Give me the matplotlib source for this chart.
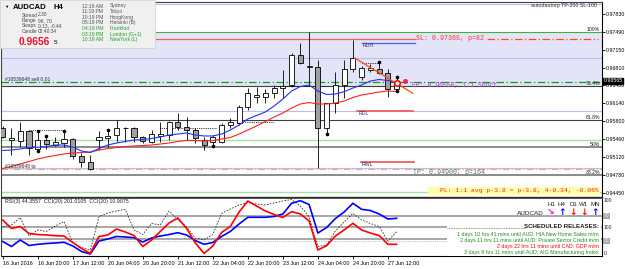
import numpy as np
import matplotlib
matplotlib.use("Agg")
import matplotlib.pyplot as plt
from matplotlib.patches import Rectangle
from matplotlib.transforms import blended_transform_factory

plt.rcParams['font.family'] = ['Liberation Sans', 'DejaVu Sans']
MONO = ['Liberation Mono', 'DejaVu Sans Mono']

# ---- data ----
date_labels = ["16 Jun 2016", "16 Jun 20:00", "17 Jun 12:00", "20 Jun 04:00",
               "20 Jun 20:00", "21 Jun 12:00", "22 Jun 04:00", "22 Jun 20:00",
               "23 Jun 12:00", "24 Jun 04:00", "24 Jun 20:00", "27 Jun 12:00"]

opens = [0.95682, 0.95456, 0.95437, 0.95620, 0.95274, 0.95450, 0.95361, 0.95399,
         0.95469, 0.95153, 0.95040, 0.95450, 0.95482, 0.95544, 0.95677, 0.95682,
         0.95501, 0.95418, 0.95526, 0.95544, 0.95796, 0.95690, 0.95639, 0.95450,
         0.95418, 0.95418, 0.95733, 0.95765, 0.96079, 0.96268, 0.96257, 0.96332,
         0.96427, 0.96489, 0.97056, 0.96835, 0.96835, 0.95671, 0.96143, 0.96489,
         0.96791, 0.96640, 0.96772, 0.96791, 0.96716, 0.96420]
highs = [0.95714, 0.95677, 0.95790, 0.95639, 0.95607, 0.95512, 0.95512, 0.95607,
         0.95488, 0.95210, 0.95167, 0.95620, 0.95620, 0.95828, 0.95690, 0.95701,
         0.95531, 0.95639, 0.95796, 0.95815, 0.95954, 0.95890, 0.95671, 0.95512,
         0.95544, 0.95765, 0.95860, 0.96111, 0.96427, 0.96445, 0.96408, 0.96489,
         0.96772, 0.97088, 0.97277, 0.97490, 0.96961, 0.96149, 0.96740, 0.96961,
         0.97339, 0.96848, 0.96886, 0.96904, 0.96791, 0.96620]
lows = [0.95488, 0.95167, 0.95318, 0.95167, 0.95261, 0.95280, 0.95337, 0.95318,
        0.95085, 0.94946, 0.94883, 0.95261, 0.95323, 0.95418, 0.95418, 0.95418,
        0.95388, 0.95399, 0.95418, 0.95450, 0.95639, 0.95450, 0.95388, 0.95261,
        0.95356, 0.95388, 0.95671, 0.95733, 0.96017, 0.96143, 0.96143, 0.96238,
        0.96238, 0.96457, 0.96886, 0.96489, 0.94921, 0.95577, 0.95954, 0.96243,
        0.96734, 0.96583, 0.96734, 0.96697, 0.96262, 0.96400]
closes = [0.95501, 0.95493, 0.95620, 0.95293, 0.95450, 0.95374, 0.95407, 0.95469,
          0.95153, 0.95040, 0.94897, 0.95501, 0.95531, 0.95682, 0.95682, 0.95501,
          0.95431, 0.95558, 0.95563, 0.95796, 0.95701, 0.95639, 0.95482, 0.95356,
          0.95512, 0.95733, 0.95796, 0.96079, 0.96332, 0.96300, 0.96332, 0.96427,
          0.96470, 0.97056, 0.96899, 0.96848, 0.95671, 0.96143, 0.96489, 0.96791,
          0.96999, 0.96810, 0.96801, 0.96716, 0.96413, 0.96565]

ma_blue = [0.95252, 0.95261, 0.95280, 0.95308, 0.95312, 0.95327, 0.95356, 0.95356,
           0.95318, 0.95242, 0.95214, 0.95289, 0.95356, 0.95393, 0.95422, 0.95450,
           0.95459, 0.95478, 0.95507, 0.95544, 0.95563, 0.95582, 0.95544, 0.95526,
           0.95526, 0.95563, 0.95639, 0.95733, 0.95847, 0.95913, 0.95979, 0.96092,
           0.96224, 0.96376, 0.96461, 0.96489, 0.96376, 0.96309, 0.96319, 0.96362,
           0.96432, 0.96489, 0.96564, 0.96593, 0.96574, 0.96536]
ma_red = [0.94912, 0.94949, 0.94997, 0.95044, 0.95091, 0.95129, 0.95157, 0.95186,
          0.95204, 0.95214, 0.95223, 0.95261, 0.95289, 0.95308, 0.95327, 0.95337,
          0.95346, 0.95356, 0.95374, 0.95393, 0.95422, 0.95441, 0.95441, 0.95431,
          0.95441, 0.95469, 0.95497, 0.95563, 0.95639, 0.95714, 0.95799, 0.95884,
          0.95960, 0.96054, 0.96130, 0.96158, 0.96130, 0.96130, 0.96149, 0.96187,
          0.96253, 0.96300, 0.96328, 0.96357, 0.96376, 0.96366]

fractal_up = [4, 5, 7, 12, 43, 45]
fractal_down = [4, 24, 37, 45]
swing_start = [3, 18, 27, 31, 41]
swing_end = [7, 24.5, 31, 37, 43]
swing_price = [0.95639, 0.95682, 0.95796, 0.96470, 0.96904]

osc_red = [63.6, 47.7, 51.4, 38.3, 36.4, 35.5, 34.2, 33.6, 21.5, 10.3, 1.3, 32.7,
           35.5, 46.7, 41.1, 34.6, 14.0, 26.2, 42.1, 57.9, 67.3, 48.0, 20.6, 1.0,
           15.0, 40.2, 51.4, 78.5, 99.0, 89.7, 80.4, 73.8, 68.2, 79.1, 74.8, 61.7,
           7.5, 15.5, 33.6, 44.9, 57.4, 44.9, 39.2, 34.6, 18.1, 18.1]
osc_blue = [23.4, 14.0, 26.2, 15.9, 18.1, 19.6, 20.6, 21.9, 15.0, 4.7, 0.0, 24.3,
            28.0, 32.7, 31.8, 30.5, 22.4, 29.9, 33.6, 36.4, 39.8, 35.5, 25.2, 18.1,
            21.5, 32.7, 42.1, 56.1, 68.6, 68.6, 68.6, 70.1, 74.8, 94.8, 99.6, 92.5,
            39.2, 49.5, 66.3, 78.5, 94.8, 83.5, 81.3, 74.8, 65.4, 66.7]
osc_dotted = [50.5, 54.2, 68.2, 33.6, 44.9, 42.1, 52.3, 60.7, 20.6, 12.1, 7.5, 69.7,
              76.6, 80.4, 83.5, 44.9, 36.4, 57.0, 54.2, 80.4, 64.5, 50.5, 29.9, 26.2,
              36.4, 75.7, 84.1, 91.6, 96.3, 93.5, 91.6, 95.3, 99.1, 101.9, 89.7, 69.2,
              14.0, 16.8, 43.0, 59.8, 76.1, 63.6, 57.0, 51.4, 24.3, 41.7]
osc_levels = [71, 50, 28]

price_ticks = [0.97830, 0.97490, 0.97150, 0.96810, 0.96480, 0.96140,
               0.95800, 0.95460, 0.95120, 0.94780, 0.94450]
fib_high, fib_low = 0.97490, 0.93134
fib_ratios = [1.0, 0.764, 0.618, 0.5, 0.382]
fib_names = ["100%", "76.4%", "61.8%", "50%", "38.2%"]
bid = 0.96565
entry, stop, target = 0.96550, 0.97365, 0.94900
rdh, rdl, rwl = 0.97277, 0.95998, 0.95034
lavender_levels = [0.98013, 0.96993, 0.95998, 0.94927]
green_levels = [0.95446, 0.94474]

sessions = [("12:19 AM", "Sydney"), ("11:19 PM", "Tokyo"), ("10:19 PM", "HongKong"),
            ("05:19 PM", "Helsinki (B)"), ("04:19 PM", "Frankfurt"),
            ("03:19 PM", "London (G+1)"), ("10:19 AM", "NewYork (L)")]
info_names = ["Spread", "Range", "Swaps", "Candle"]
info_values = ["2.30", "96, 70", "0.13, -0.44", "02:40:34"]
tf_names = ["H1", "H4", "D1", "W1", "MN"]
tf_arrows = ["\u2198", "\u2191", "\u2193", "\u2193", "\u2191"]
tf_colors = ["#ff00ff", "#0000ff", "#ff0000", "#ff0000", "#0000ff"]
news = [("1 days 10 hrs 41 mins until AUD: HIA New Home Sales m/m", "#1e8c1e"),
        ("2 days 11 hrs 11 mins until AUD: Private Sector Credit m/m", "#1e8c1e"),
        ("2 days 22 hrs 11 mins until CAD: GDP m/m", "#ff0000"),
        ("3 days 9 hrs 11 mins until AUD: AIG Manufacturing Index", "#1e8c1e")]

# ---- layout (pixels of the 625x269 picture) ----
W, H = 625, 269
BAR0_PX, BAR_PX = 2.7, 8.755
LEFT_PX, RIGHT_PX = 1.5, 602


def px_box(x0, y0, x1, y1):
    return [x0 / W, 1 - y1 / H, (x1 - x0) / W, (y1 - y0) / H]


def bar_at(px):
    return (px - BAR0_PX) / BAR_PX


fig = plt.figure(figsize=(W / 100, H / 100), dpi=100)
ax = fig.add_axes(px_box(LEFT_PX, 1.5, RIGHT_PX, 196.5))
axi = fig.add_axes(px_box(LEFT_PX, 197.5, RIGHT_PX, 256))
ov = fig.add_axes([0, 0, 1, 1])
ov.set_xlim(0, W)
ov.set_ylim(H, 0)
ov.axis('off')

xlo, xhi = bar_at(LEFT_PX), bar_at(RIGHT_PX)
bars = np.arange(len(opens))
o, h, l, c = map(np.array, (opens, highs, lows, closes))

# ---- price panel ----
ax.set_xlim(xlo, xhi)
ax.set_ylim(0.94383, 0.98066)
fib = [fib_low + r * (fib_high - fib_low) for r in fib_ratios]
ax.axhspan(fib[1], fib[0], color='#e4e4f8', lw=0, zorder=0)
for lv in lavender_levels:
    ax.axhline(lv, color='#bcbcec', lw=0.8, zorder=1)
for lv in green_levels:
    ax.axhline(lv, color='#a6e0a6', lw=1.0, zorder=1)
ax.axhline(fib[0], color='#3cb43c', lw=0.8, zorder=1)
for lv, r in zip(fib[1:], fib_ratios[1:]):
    if r >= 0.6:
        ax.axhline(lv, color='#404040', lw=0.8, zorder=1)
    else:
        ax.axhline(lv, color='#8a8a8a', lw=1.4, zorder=1)
for lv, name in zip(fib, fib_names):
    ax.text(bar_at(600), lv, name, ha='right', va='bottom', fontsize=3.7,
            color='#202020', zorder=6)

# orders
ax.axhline(entry, color='#129a12', lw=0.9, ls=(0, (6, 2, 1, 2)), zorder=2)
ax.text(bar_at(5), entry, "#16539648 sell 0.01", fontsize=3.6, va='bottom',
        color='#303030', zorder=6)
ax.axhline(target, color='#ff9a9a', lw=0.8, ls=(0, (6, 2, 1, 2)), zorder=2)
ax.text(bar_at(5), target, "#16539648 tp", fontsize=3.6, va='bottom',
        color='#303030', zorder=6)
ax.plot([xlo, bar_at(415)], [stop, stop], color='#ff5a5a', lw=0.9, zorder=2)
ax.plot([bar_at(487), bar_at(598)], [stop, stop], color='#ff4a1a', lw=0.9,
        ls=(0, (6, 2, 1, 2)), zorder=2)
ax.text(bar_at(416), stop, f"SL: {stop:.5f}, p=82", fontsize=4.8, family=MONO,
        color='#ff3030', va='center', zorder=6)
ax.text(bar_at(412), entry, f"EP: {entry:.5f}, 1:1 Short", fontsize=4.7,
        family=MONO, color='#a040c8', va='top', zorder=6)
ax.text(bar_at(413), target, f"TP: {target:.5f}, p=164", fontsize=4.8,
        family=MONO, color='#5a7a5a', va='top', zorder=6)

# daily / weekly levels
ax.plot([bar_at(362), bar_at(415)], [rdh, rdh], color='#4a6cf0', lw=1.0, zorder=2)
ax.text(bar_at(363), rdh, "RDH", fontsize=3.8, va='top', color='#2a2a80', zorder=6)
ax.plot([bar_at(357), bar_at(413)], [rdl, rdl], color='#f06060', lw=1.3, zorder=2)
ax.text(bar_at(359), rdl, "RDL", fontsize=3.8, va='top', color='#2a2a80', zorder=6)
ax.plot([bar_at(361), bar_at(414)], [rwl, rwl], color='#f06060', lw=1.3, zorder=2)
ax.text(bar_at(362), rwl, "RWL", fontsize=3.8, va='top', color='#2a2a80', zorder=6)

# swing dotted lines
for s, e, p in zip(swing_start, swing_end, swing_price):
    ax.plot([s, e], [p, p], color='black', lw=0.6, ls=(0, (1, 1.2)), zorder=3)

# candles
up = c >= o
ax.vlines(bars, l, h, color='black', lw=0.6, zorder=3)
ax.bar(bars, np.maximum(np.abs(c - o), 0.00002), bottom=np.minimum(o, c),
       width=0.58, color=np.where(up, 'white', '#a0a0a0'), edgecolor='black',
       linewidth=0.6, zorder=4)
ax.plot(bars, ma_red, color='#ff2020', lw=0.8, zorder=5)
ax.plot(bars, ma_blue, color='#2030ff', lw=0.8, zorder=5)
ax.plot(fractal_up, h[fractal_up] + 0.00022, 'o', color='black', ms=1.6, zorder=6)
ax.plot(fractal_down, l[fractal_down] - 0.00022, 'o', color='black', ms=1.6, zorder=6)

# trend line and markers
ax.plot([bar_at(355), bar_at(413)], [0.96995, 0.96330], color='#ff4a10', lw=0.9, zorder=5)
ax.plot([bars[-1]], [0.96532], 'o', ms=4, mfc='white', mec='#ff0000', mew=1.1, zorder=7)
ax.plot([bar_at(405)], [0.96570], 'o', ms=2.6, color='#ff2060', zorder=7)

ax.yaxis.tick_right()
ax.set_yticks(price_ticks)
ax.set_yticklabels([f"{v:.5f}" for v in price_ticks])
ax.tick_params(axis='y', length=2, width=0.6, pad=0.8, labelsize=3.8)
ax.set_xticks([])
for side in ('left', 'top'):
    ax.spines[side].set_color('#404040')
    ax.spines[side].set_linewidth(0.8)
ax.spines['right'].set_linewidth(0.8)
ax.spines['bottom'].set_color('#303030')
ax.spines['bottom'].set_linewidth(1.0)
ax.text(1.0025, bid, f"{bid:.5f}", transform=blended_transform_factory(ax.transAxes, ax.transData),
        fontsize=3.8, color='white', va='center', ha='left',
        bbox=dict(boxstyle='square,pad=0.12', fc='black', ec='black'), zorder=8, clip_on=False)

# ---- oscillator panel ----
axi.set_xlim(xlo, xhi)
axi.set_ylim(-3.74, 105.6)
for lv in osc_levels:
    axi.axhline(lv, color='#a8a8a8', lw=1.4, zorder=1)
axi.axhline(24, color='#c4c4c4', lw=0.8, ls=(0, (1, 1)), zorder=1)
axi.plot(bars, osc_dotted, color='#303030', lw=0.6, ls=(0, (2, 1.6)), zorder=3)
axi.plot(bars, osc_blue, color='#0000ff', lw=1.2, zorder=4)
axi.plot(bars, osc_red, color='#ff0000', lw=1.2, zorder=4)
axi.set_yticks([])
axi.set_xticks(bars[::4][:len(date_labels)])
axi.set_xticklabels(date_labels)
for t in axi.get_xticklabels():
    t.set_ha('left')
axi.tick_params(axis='x', length=2.5, width=0.6, pad=1.2, labelsize=3.9)
axi.spines['top'].set_color('#303030')
axi.spines['top'].set_linewidth(1.2)
axi.spines['left'].set_color('#404040')
axi.spines['left'].set_linewidth(0.8)
axi.spines['right'].set_linewidth(0.8)
axi.spines['bottom'].set_linewidth(0.8)

# ---- overlays (pixel coordinates) ----
ov.add_patch(Rectangle((0, 0), 155, 48, fc='#f0f0f0', ec='#cfcfcf', lw=0.5))
ov.text(4.5, 6.5, "\u25bc", fontsize=3.2, color='black', va='center')
ov.text(12.5, 7.5, "AUDCAD", fontsize=5.6, fontweight='bold', va='center')
ov.text(53, 7.5, "H4", fontsize=5.6, fontweight='bold', va='center')
for k, (nm, vl) in enumerate(zip(info_names, info_values)):
    ov.text(21.5, 15 + 5.4 * k, nm, fontsize=3.5, color='#4a4a4a', va='center')
    ov.text(38, 15 + 5.4 * k, vl, fontsize=3.5, color='#4a4a4a', va='center')
ov.text(18.5, 42, "0.9656", fontsize=7.4, fontweight='bold', color='#e8102e', va='center')
ov.text(53.5, 42.5, "5", fontsize=4.6, color='black', va='center')
for k, (tm, city) in enumerate(sessions):
    col = '#555555' if k < 4 else '#22a022'
    ov.text(81.5, 6 + 5.65 * k, tm, fontsize=3.6, color=col, va='center')
    ov.text(110, 6 + 5.65 * k, city, fontsize=3.6, color=col, va='center')
ov.text(597, 6, "autodautorp TP-200 SL-100", fontsize=3.8, ha='right', va='center',
        color='#303030')

ov.add_patch(Rectangle((428, 186.5), 172, 8, fc='#ffffa8', ec='none'))
ov.text(599, 190.6, "PL: 1:1 avg p-3.8 = p-3.8, 4-0.34, -0.06%", fontsize=4.6,
        family=MONO, color='#ff2020', ha='right', va='center')

ov.text(5, 202, "RSI(3) 44.3557  CCI(20) 201.0105  CCI(20) 10.9075", fontsize=3.8,
        color='#202020', va='center')
for k, (nm, ar, col) in enumerate(zip(tf_names, tf_arrows, tf_colors)):
    x = 551 + 11 * k
    ov.text(x, 204.5, nm, fontsize=4.4, ha='center', va='center', color='#202020')
    ov.text(x, 212.8, ar, fontsize=6.5, fontweight='bold', ha='center', va='center',
            color=col, family=['DejaVu Sans'])
ov.text(544, 213.5, "AUDCAD", fontsize=4.6, ha='right', va='center', color='#202020')

ov.add_patch(Rectangle((447, 221.5), 154, 34, fc='white', ec='none'))
ov.plot([447, 526], [227.6, 227.6], color='#707070', lw=0.6, ls=(0, (1, 1)))
ov.text(599, 226.8, "SCHEDULED RELEASES:", fontsize=4.4, fontweight='bold',
        ha='right', va='center', color='#202020')
for k, (txt, col) in enumerate(news):
    ov.text(599, 234.3 + 6 * k, txt, fontsize=3.8, ha='right', va='center', color=col)

osc_labels = [(200.7, "100", False), (215.8, "70", True), (227.3, "100", False),
              (241.0, "30", True), (253.7, "0", False)]
for y, txt, boxed in osc_labels:
    if boxed:
        ov.text(604, y, txt, fontsize=3.6, va='center', color='#f0f0f0',
                bbox=dict(boxstyle='square,pad=0.15', fc='#a8a8a8', ec='none'))
    else:
        ov.text(604, y, txt, fontsize=3.6, va='center', color='#202020')

fig.savefig("out.png", dpi=100)
